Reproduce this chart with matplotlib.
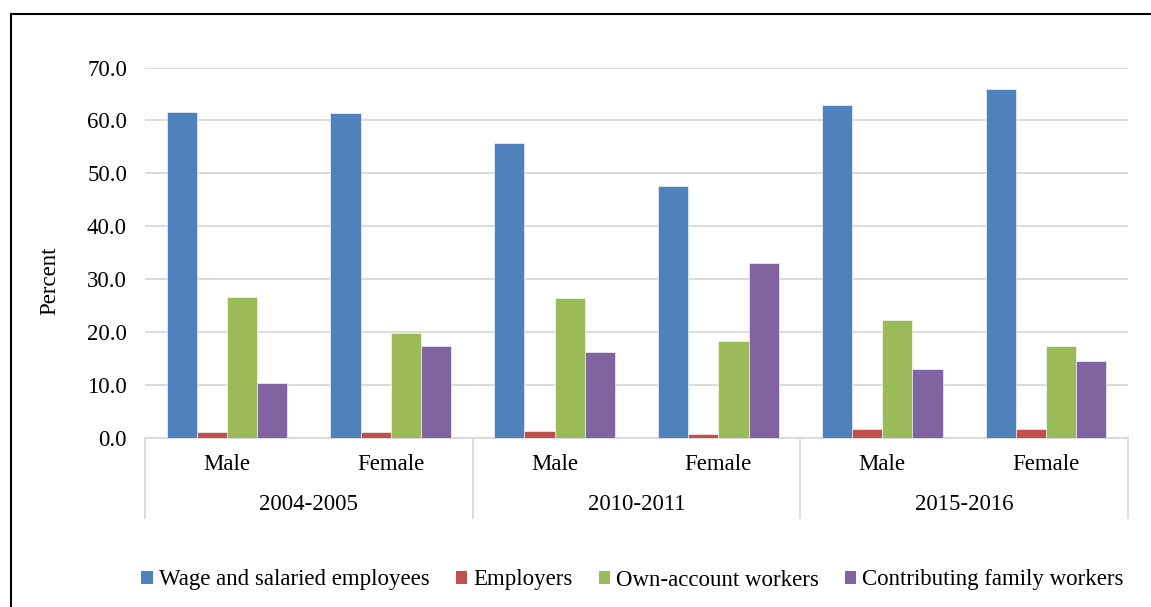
import matplotlib
matplotlib.use("Agg")
import matplotlib.pyplot as plt
from matplotlib.lines import Line2D
from matplotlib.patches import Patch
import numpy as np

plt.rcParams['font.family'] = ['Liberation Serif', 'DejaVu Serif']

years = ["2004-2005", "2010-2011", "2015-2016"]
sexes = ["Male", "Female"]
series = ["Wage and salaried employees", "Employers", "Own-account workers", "Contributing family workers"]
wage = [61.6, 61.4, 55.7, 47.6, 63.0, 66.0]
employers = [1.1, 1.1, 1.4, 0.8, 1.7, 1.8]
own_account = [26.7, 19.9, 26.5, 18.4, 22.3, 17.5]
contributing = [10.4, 17.4, 16.3, 33.1, 13.0, 14.6]
yticks = [0, 10, 20, 30, 40, 50, 60, 70]
colors = ["#4F81BD", "#C0504D", "#9BBB59", "#8064A2"]

FS = 16.5
W, H = 1151, 607
fig = plt.figure(figsize=(W / 100, H / 100), dpi=100)
fig.patch.set_facecolor("white")

left, right = 145 / W, 1128 / W
bottom, top = 1 - 438.3 / H, 1 - 67.5 / H
ax = fig.add_axes([left, bottom, right - left, top - bottom])

data = [wage, employers, own_account, contributing]
n = len(wage)
x = np.arange(n)
bw = 0.184
for i, (vals, c, name) in enumerate(zip(data, colors, series)):
    ax.bar(x + (i - 1.5) * bw, vals, width=bw, color=c, label=name,
           edgecolor="white", linewidth=0.4, zorder=3)

ax.set_xlim(-0.5, n - 0.5)
ax.set_ylim(0, 70)
ax.set_yticks(yticks)
ax.set_yticklabels([f"{v:.1f}" for v in yticks], fontsize=FS)
ax.yaxis.grid(True, color="#D9D9D9", linewidth=1.3, zorder=0)
ax.set_axisbelow(True)
ax.tick_params(axis="y", length=0, pad=13)
ax.set_xticks([])
for s in ["top", "right", "left"]:
    ax.spines[s].set_visible(False)
ax.spines["bottom"].set_color("#D9D9D9")
ax.spines["bottom"].set_linewidth(1.3)

def fy(py):
    return 1 - py / H

fig.text(50 / W, fy(281), "Percent", rotation=90, ha="center", va="center", fontsize=FS)

# multi-level category axis
for k in range(len(years) + 1):
    xd = -0.5 + 2 * k
    xf = left + (xd + 0.5) / n * (right - left)
    fig.add_artist(Line2D([xf, xf], [fy(438.3), fy(518)], color="#D9D9D9", linewidth=1.3))

for j in range(n):
    xf = left + (j + 0.5) / n * (right - left)
    fig.text(xf, fy(465), sexes[j % 2], ha="center", va="center", fontsize=FS)
for k, yr in enumerate(years):
    xf = left + (2 * k + 1) / n * (right - left)
    fig.text(xf, fy(505), yr, ha="center", va="center", fontsize=FS)

# outer frame (top & left visible)
fig.add_artist(Line2D([11 / W, 1.0], [fy(14), fy(14)], color="black", linewidth=1.5))
fig.add_artist(Line2D([11 / W, 11 / W], [fy(14), 0], color="black", linewidth=1.5))

handles = [Patch(facecolor=c, edgecolor="none") for c in colors]
fig.legend(handles, series, loc="center", bbox_to_anchor=(632.5 / W, fy(580)), ncol=4,
           frameon=False, fontsize=FS, handlelength=0.5, handleheight=0.5,
           handletextpad=0.25, columnspacing=1.15)

fig.savefig("out.png", dpi=100, facecolor="white")
